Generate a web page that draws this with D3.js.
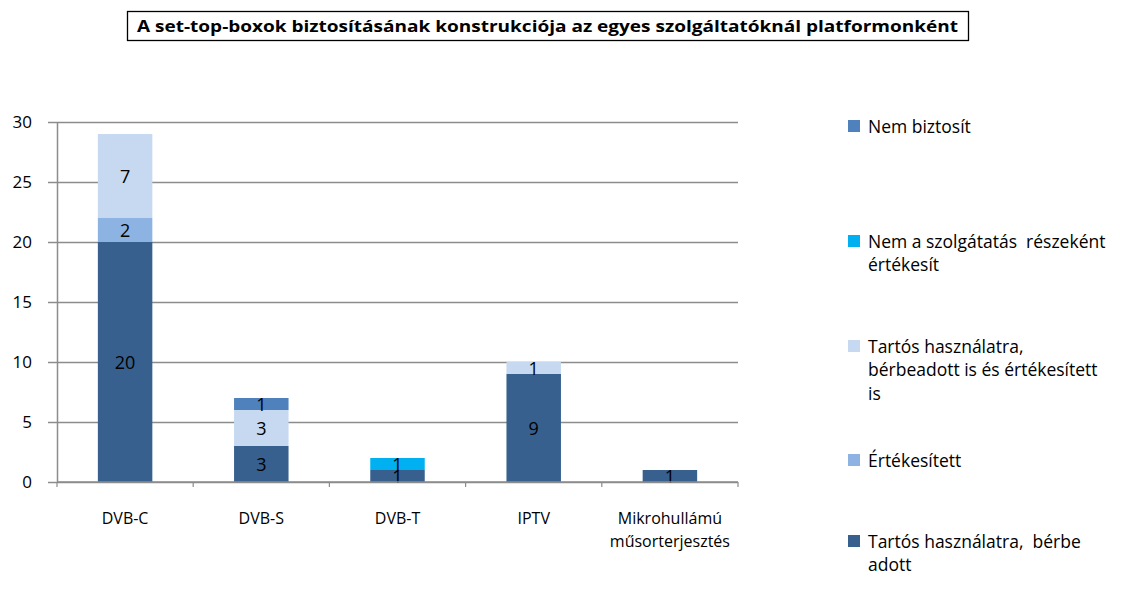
<!DOCTYPE html>
<html>
<head>
<meta charset="utf-8">
<script src="https://cdn.jsdelivr.net/npm/d3@7"></script>
<style>
  body { margin: 0; background: #fff; }
  svg text { font-family: "Open Sans", "Noto Sans", sans-serif; }
</style>
</head>
<body>
<div id="chart"></div>
<script>
const totalWidth = 1138
const totalHeight = 606

// categories and series (bottom to top of each stack)
const categories = ["DVB-C", "DVB-S", "DVB-T", "IPTV", "Mikrohullámú műsorterjesztés"]
const berbeAdott    = [20, 3, 1, 9, 1]
const ertekesitett  = [2, 0, 0, 0, 0]
const mindketto     = [7, 3, 0, 1, 0]
const nemASzolg     = [0, 0, 1, 0, 0]
const nemBiztosit   = [0, 1, 0, 0, 0]
const yTicks = [0, 5, 10, 15, 20, 25, 30]

const colors = ["#37608f", "#8db3e2", "#c6d9f0", "#00b0f0", "#4f81bd"]

var margin = {top: 122, right: 400, bottom: 124, left: 57},
    width = totalWidth - margin.left - margin.right,
    height = totalHeight - margin.top - margin.bottom;

var svg = d3.select("#chart").append("svg")
  .attr("width", totalWidth)
  .attr("height", totalHeight)

// title in a box
var title = svg.append("g")
title.append("rect")
  .attr("x", 127.5).attr("y", 11.5).attr("width", 841).attr("height", 29)
  .attr("fill", "#fff").attr("stroke", "#000").attr("stroke-width", 1.3)
title.append("text")
  .attr("x", 137).attr("y", 31.5)
  .attr("textLength", 821).attr("lengthAdjust", "spacingAndGlyphs")
  .style("font-size", "15.5px").style("font-weight", "bold")
  .text("A set-top-boxok biztosításának  konstrukciója  az egyes szolgáltatóknál  platformonként")

var g = svg.append("g")
  .attr("transform", "translate(" + margin.left + "," + margin.top + ")");

// table built for the stack
var table = categories.map(function(c, i) {
  return {cat: c, s0: berbeAdott[i], s1: ertekesitett[i], s2: mindketto[i], s3: nemASzolg[i], s4: nemBiztosit[i]}
})
var keys = ["s0", "s1", "s2", "s3", "s4"]
var stacked = d3.stack().keys(keys)(table)

var x = d3.scaleBand().domain(categories).range([0, width]).paddingInner(0.6).paddingOuter(0.3)
var y = d3.scaleLinear().domain([0, 30]).range([height, 0])

// gridlines
g.append("g")
  .call(d3.axisLeft(y).tickValues(yTicks).tickSize(-width).tickFormat(""))
  .call(function(a) {
    a.select(".domain").remove()
    a.selectAll("line").attr("stroke", "#8c8c8c").attr("stroke-width", 1.5)
  })

// y axis with outside ticks and labels
g.append("g")
  .call(d3.axisLeft(y).tickValues(yTicks).tickSize(9).tickPadding(16).tickSizeOuter(0))
  .call(function(a) {
    a.select(".domain").attr("stroke", "#8c8c8c").attr("stroke-width", 1.5)
    a.selectAll("line").attr("stroke", "#8c8c8c").attr("stroke-width", 1.5)
    a.selectAll("text").style("font-size", "17px").attr("fill", "#000")
  })

// bars
var layer = g.selectAll(".layer").data(stacked).enter().append("g")
  .attr("fill", function(d, i) { return colors[i] })
layer.selectAll("rect").data(function(d) { return d }).enter().append("rect")
  .attr("x", function(d) { return x(d.data.cat) })
  .attr("width", x.bandwidth())
  .attr("y", function(d) { return y(d[1]) })
  .attr("height", function(d) { return y(d[0]) - y(d[1]) })

// value labels
layer.selectAll("text").data(function(d) { return d.filter(function(e) { return e[1] - e[0] > 0 }) })
  .enter().append("text")
  .attr("x", function(d) { return x(d.data.cat) + x.bandwidth() / 2 })
  .attr("y", function(d) { return y((d[0] + d[1]) / 2) + 6.5 })
  .attr("text-anchor", "middle")
  .attr("fill", "#000")
  .style("font-size", "18px")
  .text(function(d) { return d[1] - d[0] })

// x axis baseline with ticks between categories
var step = width / categories.length
var xb = g.append("g").attr("transform", "translate(0," + height + ")")
xb.append("line").attr("x1", 0).attr("x2", width).attr("stroke", "#8c8c8c").attr("stroke-width", 1.5)
xb.selectAll(".tk").data(d3.range(categories.length + 1)).enter().append("line")
  .attr("x1", function(d) { return d * step }).attr("x2", function(d) { return d * step })
  .attr("y1", 0).attr("y2", 5)
  .attr("stroke", "#8c8c8c").attr("stroke-width", 1.2)

// category labels
var catLines = [["DVB-C"], ["DVB-S"], ["DVB-T"], ["IPTV"], ["Mikrohullámú", "műsorterjesztés"]]
catLines.forEach(function(lines, i) {
  var t = xb.append("text")
    .attr("x", x(categories[i]) + x.bandwidth() / 2)
    .attr("y", 42)
    .attr("text-anchor", "middle")
    .style("font-size", "16px")
  lines.forEach(function(l, j) {
    t.append("tspan").attr("x", x(categories[i]) + x.bandwidth() / 2).attr("dy", j ? 23 : 0).text(l)
  })
})

// legend
var legendItems = [
  {c: colors[4], y: 126, lines: ["Nem biztosít"]},
  {c: colors[3], y: 241, lines: ["Nem a szolgátatás  részeként", "értékesít"]},
  {c: colors[2], y: 346, lines: ["Tartós használatra,", "bérbeadott is és értékesített", "is"]},
  {c: colors[1], y: 460, lines: ["Értékesített"]},
  {c: colors[0], y: 541, lines: ["Tartós használatra,  bérbe", "adott"]}
]
var lg = svg.append("g")
legendItems.forEach(function(it) {
  lg.append("rect").attr("x", 848).attr("y", it.y - 6).attr("width", 12).attr("height", 12).attr("fill", it.c)
  var t = lg.append("text").attr("x", 868).attr("y", it.y + 6.5).style("font-size", "17.5px").style("white-space", "pre")
  it.lines.forEach(function(l, j) {
    t.append("tspan").attr("x", 868).attr("dy", j ? 23.5 : 0).text(l)
  })
})
</script>
</body>
</html>
